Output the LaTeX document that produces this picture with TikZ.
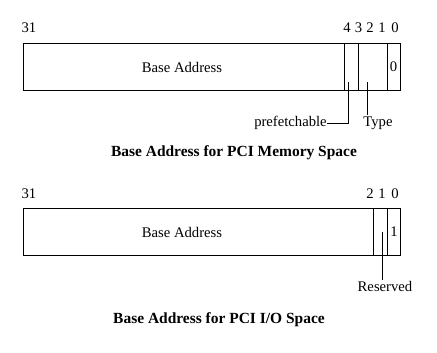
\documentclass[tikz,border=0pt]{standalone}
\usepackage{fontspec}
\setmainfont{Liberation Serif}
\begin{document}
\begin{tikzpicture}[x=0.75pt,y=-0.75pt,
  every node/.style={font=\fontsize{11}{13}\selectfont, inner sep=0pt},
  field/.style={draw, line width=0.6pt, minimum height=35.25pt, anchor=north west},
  captiontext/.style={font=\fontsize{11.6}{13}\selectfont\bfseries},
  lead/.style={line width=0.6pt}]
\useasboundingbox (0,0) rectangle (437,353);
% ---------- Memory space ----------
\node[field, minimum width=240.75pt] (mbase) at (23,43) {};
\node[field, minimum width=10.5pt] (mpf) at (344,43) {};
\node[field, minimum width=21.75pt] (mtype) at (358,43) {};
\node[field, minimum width=9.75pt] (mzero) at (387,43) {};
\node (mbaset) at (182,67) {Base Address};
\node (mzerot) at (393.5,67) {0};
\node (m31) at (29,28) {31};
\node (m4) at (347,28) {4};
\node (m3) at (358.5,28) {3};
\node (m2) at (370,28) {2};
\node (m1) at (382,28) {1};
\node (m0) at (395,28) {0};
\coordinate (pftop) at (348,82);
\coordinate (typetop) at (367,82);
\node[anchor=base east] (pftext) at (327,127) {prefetchable};
\node[anchor=base] (typetext) at (378,127) {Type};
\draw[lead] (pftop) |- (pftext.east |- 0,123);
\draw[lead] (typetop) -- (367,115);
\node[captiontext] (mcap) at (234,153) {Base Address for PCI Memory Space};
% ---------- I/O space ----------
\node[field, minimum width=262.5pt] (ibase) at (23,208) {};
\node[field, minimum width=10.5pt] (ires) at (373,208) {};
\node[field, minimum width=9.75pt] (ione) at (387,208) {};
\node (ibaset) at (182,232) {Base Address};
\node (ionet) at (394,232) {1};
\node (i31) at (29,194) {31};
\node (i2) at (370,194) {2};
\node (i1) at (382,194) {1};
\node (i0) at (395,194) {0};
\coordinate (restop) at (382,232);
\node[anchor=base] (restext) at (385,292) {Reserved};
\draw[lead] (restop) -- (restop |- 0,280);
\node[captiontext] (icap) at (219,320) {Base Address for PCI I/O Space};
\end{tikzpicture}
\end{document}
